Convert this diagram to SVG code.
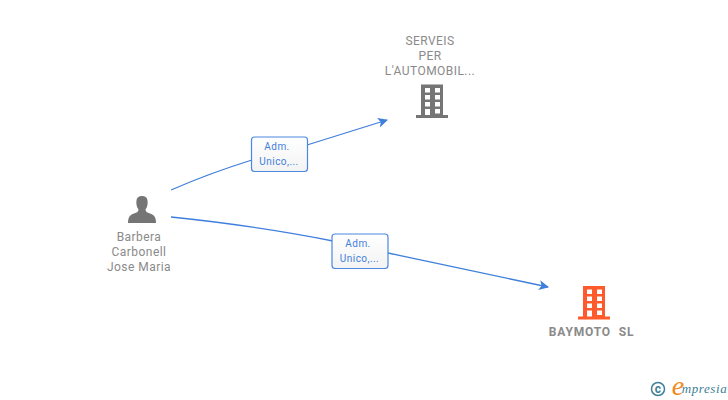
<svg xmlns="http://www.w3.org/2000/svg" width="728" height="400" viewBox="0 0 728 400">
<style>
text{font-family:Roboto,"Liberation Sans",Arial,sans-serif;text-anchor:middle}
.n{font-size:12px;fill:#8a8a8a;letter-spacing:.45px}
.e{font-size:10px;fill:#3f7fdc;letter-spacing:.45px}
.c{fill:none;stroke:#3f7fdc;stroke-width:1.3}
.b{stroke:#4a88e0;stroke-width:1.2;fill:url(#g)}
.l{fill:#3d7f96;font-family:"Liberation Serif",serif;font-style:italic}
</style>
<defs>
<marker id="a" markerWidth="12" markerHeight="12" refX="9" refY="5" orient="auto" markerUnits="userSpaceOnUse"><path d="M0 0L10 5L0 10L2.500 5Z" fill="#3f7fdc"/></marker>
<linearGradient id="g" x1="0" y1="0" x2="0" y2="1"><stop offset="0" stop-color="#fff"/><stop offset="1" stop-color="#f3f3f3"/></linearGradient>
<g id="bld"><path fill-rule="evenodd" d="M-11 -33.500H11V-3H16V0H-16V-3H-11ZM-7 -30V-25.500H-2V-30ZM3 -30V-25.500H8V-30ZM-7 -23V-18.500H-2V-23ZM3 -23V-18.500H8V-23ZM-7 -16V-11.500H-2V-16ZM3 -16V-11.500H8V-16ZM-7 -9V-3H-2V-9ZM3 -9V-4.500H8V-9Z"/></g>
</defs>
<g id="connectors">
<path class="c" d="M171 190Q210 173 252 160M307 145L387 120" marker-end="url(#a)"/>
<path class="c" d="M171 217Q258 226 333 241M388 253L548 287" marker-end="url(#a)"/>
</g>
<g id="edge1"><rect class="b" x="251.500" y="137" width="56" height="34.500" rx="3"/><text class="e" x="277" y="150">Adm.</text><text class="e" x="279" y="165">Unico,...</text></g>
<g id="edge2"><rect class="b" x="332" y="234" width="56" height="34.500" rx="3"/><text class="e" x="358" y="247">Adm.</text><text class="e" x="359.500" y="262">Unico,...</text></g>
<g id="person"><path fill="#757575" d="M128 223C128 217 130 215 134 213.500C137 212.500 138.500 211.500 138.500 209.500C136.500 207 136 203 136.500 200.500C137 197 139.500 196 142 196C144.500 196 147 197 147.500 200.500C148 203 147.500 207 145.500 209.500C145.500 211.500 147 212.500 150 213.500C154 215 156 217 156 223Z"/>
<text class="n" x="139" y="241">Barbera</text><text class="n" x="139" y="256">Carbonell</text><text class="n" x="139" y="271">Jose Maria</text></g>
<g id="serveis"><text class="n" x="430" y="45">SERVEIS</text><text class="n" x="430" y="60">PER</text><text class="n" x="430" y="75">L'AUTOMOBIL...</text><use href="#bld" x="432" y="118" fill="#757575"/></g>
<g id="baymoto"><use href="#bld" x="594" y="319.500" fill="#ff5a2c"/><text class="n" x="591.500" y="336" style="font-weight:bold;white-space:pre;letter-spacing:.85px">BAYMOTO  SL</text></g>
<g id="logo"><circle cx="658" cy="389" r="6.500" fill="none" stroke="#3d7f96" stroke-width="1.500"/><text x="658" y="393" style="font-size:12px;fill:#3d7f96;font-weight:bold">c</text><text x="678" y="395" class="l" style="font-size:28px;fill:#f08a1d">e</text><text x="704.500" y="393" class="l" style="font-size:13px;letter-spacing:.6px">mpresia</text></g>
</svg>
